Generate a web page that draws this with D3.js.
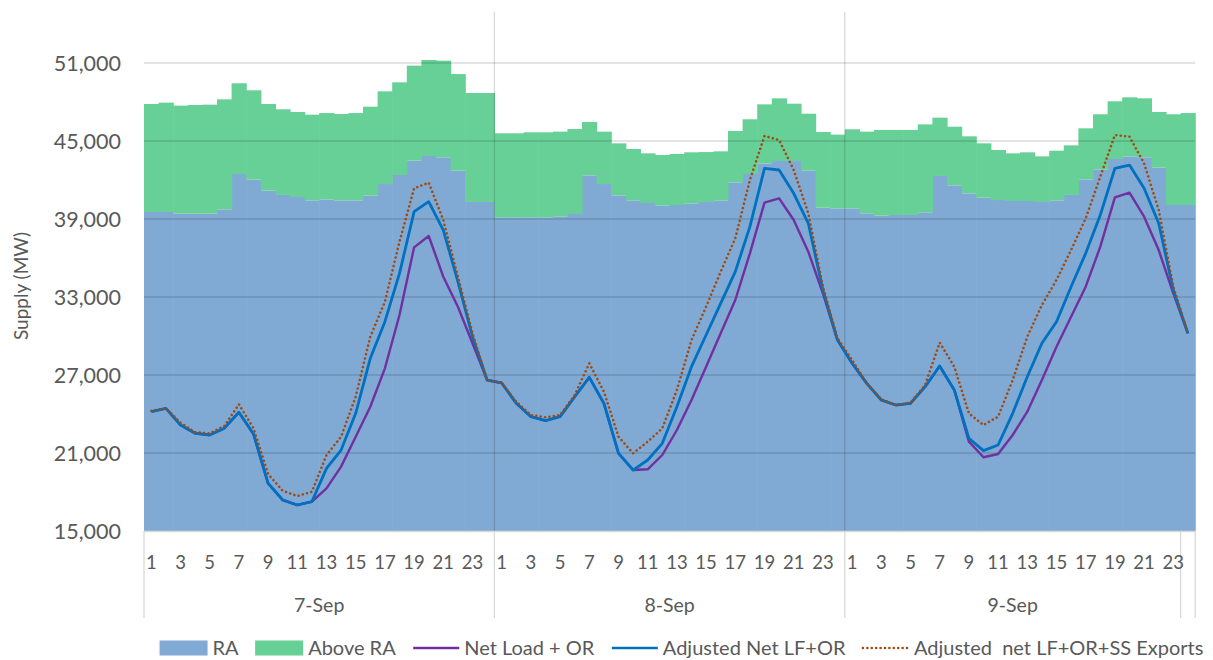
<!DOCTYPE html>
<html>
<head>
<meta charset="utf-8">
<script src="https://cdnjs.cloudflare.com/ajax/libs/d3/7.8.5/d3.min.js"></script>
<style>
  body { margin: 0; background: #fff; }
  text { font-family: Lato, "Open Sans", sans-serif; fill: #595959; }
</style>
</head>
<body>
<div id="chart"></div>
<script>
// hourly categories, grouped by day (the last hour sits in its own unlabeled group)
var dayLabels = ["7-Sep", "8-Sep", "9-Sep", ""];
var daySizes = [24, 24, 23, 1];
var hours = d3.range(72).map(function(i) { return (i % 24) + 1; });

var ra = [
  39540, 39540, 39410, 39410, 39410, 39745, 42460, 42025, 41180, 40850, 40690, 40435,
  40510, 40435, 40435, 40795, 41690, 42385, 43485, 43845, 43745, 42715, 40310, 40310,
  39130, 39130, 39130, 39130, 39205, 39385, 42360, 41690, 40820, 40435, 40230, 40025,
  40075, 40205, 40310, 40435, 41820, 42460, 43280, 43460, 43460, 42715, 39870, 39820,
  39820, 39440, 39255, 39310, 39310, 39515, 42310, 41590, 40975, 40640, 40460, 40385,
  40385, 40310, 40435, 40850, 42050, 42820, 43615, 43820, 43745, 42950, 40075, 40075
];
var aboveRA = [
  8306, 8410, 8310, 8360, 8385, 8460, 6980, 6875, 6666, 6590, 6540, 6590,
  6640, 6640, 6715, 6845, 7130, 7130, 7310, 7385, 7435, 7435, 8380, 8380,
  6460, 6460, 6540, 6540, 6515, 6535, 4100, 4030, 4000, 3950, 3820, 3895,
  3925, 3925, 3840, 3770, 3950, 4210, 4540, 4820, 4410, 4385, 5820, 5670,
  6080, 6280, 6595, 6540, 6540, 6765, 4485, 4510, 4385, 4180, 3850, 3665,
  3745, 3510, 3820, 3815, 3925, 4235, 4440, 4540, 4540, 4280, 6980, 7075
];
var netLoadOR = [
  24177, 24436, 23154, 22515, 22385, 22900, 24130, 22460, 18670, 17385, 17000, 17255,
  18280, 19950, 22255, 24560, 27515, 31615, 36820, 37690, 34560, 32255, 29440, 26615,
  26385, 24820, 23795, 23485, 23795, 25330, 26820, 24820, 20975, 19690, 19745, 20845,
  22770, 25075, 27640, 30205, 32770, 36360, 40255, 40590, 38920, 36485, 33285, 29690,
  27900, 26360, 25075, 24690, 24820, 26100, 27690, 25845, 21870, 20670, 20925, 22385,
  24180, 26615, 29180, 31485, 33795, 36870, 40665, 41025, 39180, 36615, 33285, 30205
];
var adjNetLFOR = [
  24177, 24436, 23154, 22515, 22385, 22900, 24130, 22460, 18670, 17385, 17000, 17255,
  19820, 21230, 24050, 28285, 31100, 34820, 39560, 40330, 38150, 34180, 29950, 26615,
  26385, 24820, 23795, 23485, 23795, 25330, 26820, 24820, 20975, 19690, 20460, 21745,
  24560, 27640, 30075, 32515, 34950, 38410, 42900, 42770, 40975, 38670, 33540, 29690,
  27900, 26360, 25075, 24690, 24820, 26100, 27690, 25845, 22130, 21180, 21615, 24050,
  26870, 29440, 31100, 33795, 36360, 39310, 42900, 43150, 41360, 38670, 33540, 30205
];
var adjNetSSExports = [
  24254, 24436, 23330, 22590, 22515, 23077, 24745, 22900, 19385, 18100, 17690, 18025,
  20845, 22255, 25330, 29950, 32640, 37255, 41360, 41795, 38920, 34560, 30210, 26615,
  26385, 24950, 23920, 23745, 23920, 25460, 27900, 25720, 22255, 20975, 21870, 22900,
  25845, 29690, 32255, 34950, 37515, 42000, 45385, 45075, 42770, 39440, 33795, 29820,
  28155, 26360, 25130, 24690, 24870, 26230, 29485, 27640, 24050, 23150, 23795, 26615,
  29950, 32385, 34310, 36615, 39050, 42255, 45460, 45330, 43280, 39690, 33795, 30205
];
var yTicks = [15000, 21000, 27000, 33000, 39000, 45000, 51000];

var svgWidth = 1213;
var svgHeight = 660;
var plot = { left: 144, right: 1195.2, top: 12, bottom: 531 };
var axisBottom = 618;

var svg = d3.select("#chart")
  .append("svg")
  .attr("width", svgWidth)
  .attr("height", svgHeight);

var x = d3.scaleBand()
  .domain(d3.range(ra.length))
  .range([plot.left, plot.right])
  .padding(0);

var y = d3.scaleLinear()
  .domain([15000, 55000])
  .range([plot.bottom, plot.top - 1]);

// stacked columns, no gap
var rows = ra.map(function(v, i) { return { i: i, ra: v, above: aboveRA[i] }; });
var stacked = d3.stack().keys(["ra", "above"])(rows);
var fills = { ra: "#80aad4", above: "#67d097" };

svg.append("g")
  .selectAll("g")
  .data(stacked)
  .enter()
  .append("g")
  .attr("fill", function(s) { return fills[s.key]; })
  .selectAll("rect")
  .data(function(s) { return s; })
  .enter()
  .append("rect")
  .attr("x", function(d) { return x(d.data.i); })
  .attr("width", x.bandwidth() + 0.6)
  .attr("y", function(d) { return y(d[1]); })
  .attr("height", function(d) { return y(Math.max(d[0], 15000)) - y(d[1]); });

// gridlines sit on top of the columns, translucent
svg.append("g")
  .selectAll("line")
  .data(yTicks.slice(1))
  .enter()
  .append("line")
  .attr("x1", plot.left)
  .attr("x2", plot.right)
  .attr("y1", function(d) { return y(d); })
  .attr("y2", function(d) { return y(d); })
  .attr("stroke", "rgba(0,0,0,0.15)")
  .attr("stroke-width", 1.3);

// day boundaries
var starts = [];
var acc = 0;
daySizes.forEach(function(n) { starts.push(acc); acc += n; });
var bounds = starts.map(function(s) { return x(s); }).concat([plot.right]);

svg.append("g")
  .selectAll("line")
  .data(bounds)
  .enter()
  .append("line")
  .attr("x1", function(d) { return d; })
  .attr("x2", function(d) { return d; })
  .attr("y1", function(d, k) { return (k === 1 || k === 2) ? plot.top : plot.bottom; })
  .attr("y2", axisBottom)
  .attr("stroke", function(d, k) { return (k === 1 || k === 2) ? "rgba(0,0,0,0.15)" : "#d9d9d9"; })
  .attr("stroke-width", 1.3);

svg.append("line")
  .attr("x1", plot.left)
  .attr("x2", plot.right)
  .attr("y1", plot.bottom + 0.5)
  .attr("y2", plot.bottom + 0.5)
  .attr("stroke", "#d9d9d9")
  .attr("stroke-width", 1.3);

// lines
var cx = function(i) { return x(i) + x.bandwidth() / 2; };
var series = [
  { values: netLoadOR, color: "#7030a0", width: 2.4, dash: null },
  { values: adjNetLFOR, color: "#0070c0", width: 2.8, dash: null },
  { values: adjNetSSExports, color: "#9e4a12", width: 2.6, dash: "0.01 4.4" }
];
var line = d3.line()
  .x(function(d, i) { return cx(i); })
  .y(function(d) { return y(d); });

series.forEach(function(s) {
  svg.append("path")
    .datum(s.values)
    .attr("fill", "none")
    .attr("stroke", s.color)
    .attr("stroke-width", s.width)
    .attr("stroke-linejoin", "round")
    .attr("stroke-linecap", s.dash ? "round" : "butt")
    .attr("stroke-dasharray", s.dash)
    .attr("d", line);
});

// y tick labels
svg.append("g")
  .selectAll("text")
  .data(yTicks)
  .enter()
  .append("text")
  .attr("x", 121)
  .attr("y", function(d) { return y(d) + 7.5; })
  .attr("text-anchor", "end")
  .style("font-size", "21.5px")
  .text(function(d) { return d3.format(",")(d); });

svg.append("text")
  .attr("transform", "translate(28, 286) rotate(-90)")
  .attr("text-anchor", "middle")
  .style("font-size", "19px")
  .text("Supply (MW)");

// hour labels (every other one)
svg.append("g")
  .selectAll("text")
  .data(hours.filter(function(h, i) { return i % 2 === 0; }))
  .enter()
  .append("text")
  .attr("x", function(d, k) { return cx(k * 2); })
  .attr("y", 569)
  .attr("text-anchor", "middle")
  .style("font-size", "18.5px")
  .text(function(d) { return d; });

// day labels
svg.append("g")
  .selectAll("text")
  .data(dayLabels)
  .enter()
  .append("text")
  .attr("x", function(d, k) { return (bounds[k] + bounds[k + 1]) / 2; })
  .attr("y", 612)
  .attr("text-anchor", "middle")
  .style("font-size", "19.5px")
  .text(function(d) { return d; });

// legend
var legendItems = [
  { name: "RA", type: "box", color: fills.ra },
  { name: "Above RA", type: "box", color: fills.above },
  { name: "Net Load + OR", type: "line", color: "#7030a0", dash: null },
  { name: "Adjusted Net LF+OR", type: "line", color: "#0070c0", dash: null },
  { name: "Adjusted\u00a0 net LF+OR+SS Exports", type: "line", color: "#9e4a12", dash: "0.01 4.4" }
];
var legend = svg.append("g");
var lx = 0;
var ly = 648;
legendItems.forEach(function(item) {
  var g = legend.append("g").attr("transform", "translate(" + lx + ",0)");
  var sw = item.type === "box" ? 48 : 47;
  if (item.type === "box") {
    g.append("rect").attr("x", 0).attr("y", ly - 7.5).attr("width", sw).attr("height", 15).attr("fill", item.color);
  } else {
    g.append("line").attr("x1", 1).attr("x2", sw).attr("y1", ly).attr("y2", ly)
      .attr("stroke", item.color).attr("stroke-width", 2.6)
      .attr("stroke-linecap", item.dash ? "round" : "butt")
      .attr("stroke-dasharray", item.dash);
  }
  var t = g.append("text")
    .attr("x", sw + 5)
    .attr("y", ly + 7)
    .style("font-size", "20px")
    .text(item.name);
  lx += sw + 5 + t.node().getComputedTextLength() + 16.5;
});
var legendWidth = lx - 16.5;
legend.attr("transform", "translate(" + (681.5 - legendWidth / 2) + ",0)");
</script>
</body>
</html>
